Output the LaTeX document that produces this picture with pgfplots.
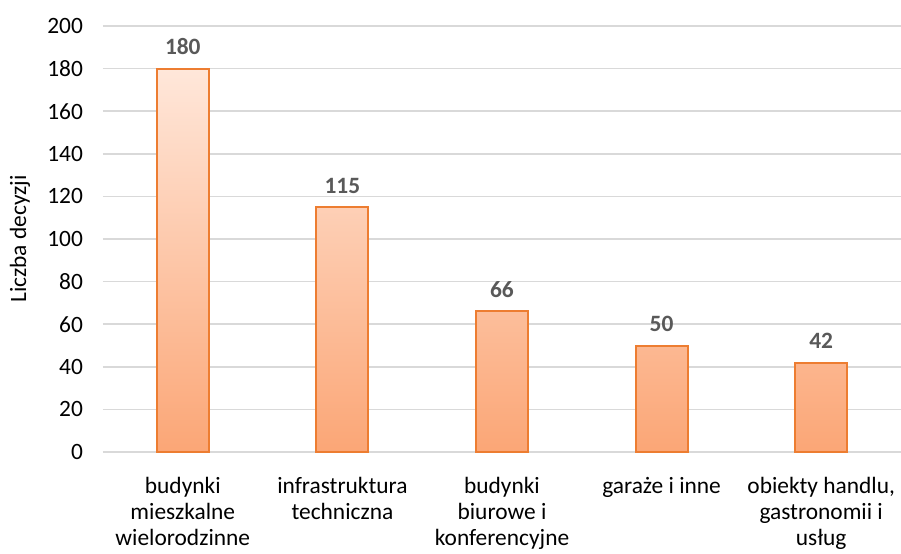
\documentclass[border=0pt]{standalone}
\usepackage{fontspec}
\setmainfont{Carlito}
\usepackage{pgfplots}
\pgfplotsset{compat=1.18}
\definecolor{barline}{HTML}{ED7D31}
\definecolor{bartop}{HTML}{FFE7DA}
\definecolor{barbot}{HTML}{FBA676}
\definecolor{gridc}{HTML}{D9D9D9}
\definecolor{lbl}{HTML}{595959}
\newcommand\chartfont{\fontsize{11.7}{12.75}\selectfont}
\newcommand\catfont{\fontsize{11.7}{13.1}\selectfont}
\begin{document}
\begin{tikzpicture}
\begin{axis}[
  name=ax,
  scale only axis,
  width=399pt, height=213pt,
  xmin=-0.5, xmax=4.5,
  ymin=0, ymax=200,
  ytick={0,20,...,200},
  xtick=data,
  xticklabels={{budynki\\mieszkalne\\wielorodzinne},{infrastruktura\\techniczna},{budynki\\biurowe i\\konferencyjne},{garaże i inne},{obiekty handlu,\\gastronomii i\\usług}},
  xticklabel style={align=center, font=\catfont, yshift=-9pt},
  yticklabel style={font=\chartfont, xshift=-6.5pt},
  /pgf/number format/assume math mode=true,
  major tick length=0pt,
  axis line style={draw=none},
  ymajorgrids,
  grid style={gridc, line width=0.8pt},
  ylabel={Liczba decyzji},
  every axis y label/.style={at={(axis description cs:-0.104,0.5)}, rotate=90, anchor=center, font=\chartfont},
  clip=false,
  nodes near coords,
  nodes near coords style={font=\chartfont\bfseries, color=lbl, anchor=south, yshift=3pt},
]
\addplot[ybar, bar width=26pt, draw=barline, line width=1pt, top color=bartop, bottom color=barbot]
  coordinates {(0,180) (1,115) (2,66) (3,50) (4,42)};
\end{axis}
\pgfresetboundingbox
\path[use as bounding box] (-51.5pt,-50.5pt) rectangle (399pt,226pt);
\end{tikzpicture}
\end{document}
